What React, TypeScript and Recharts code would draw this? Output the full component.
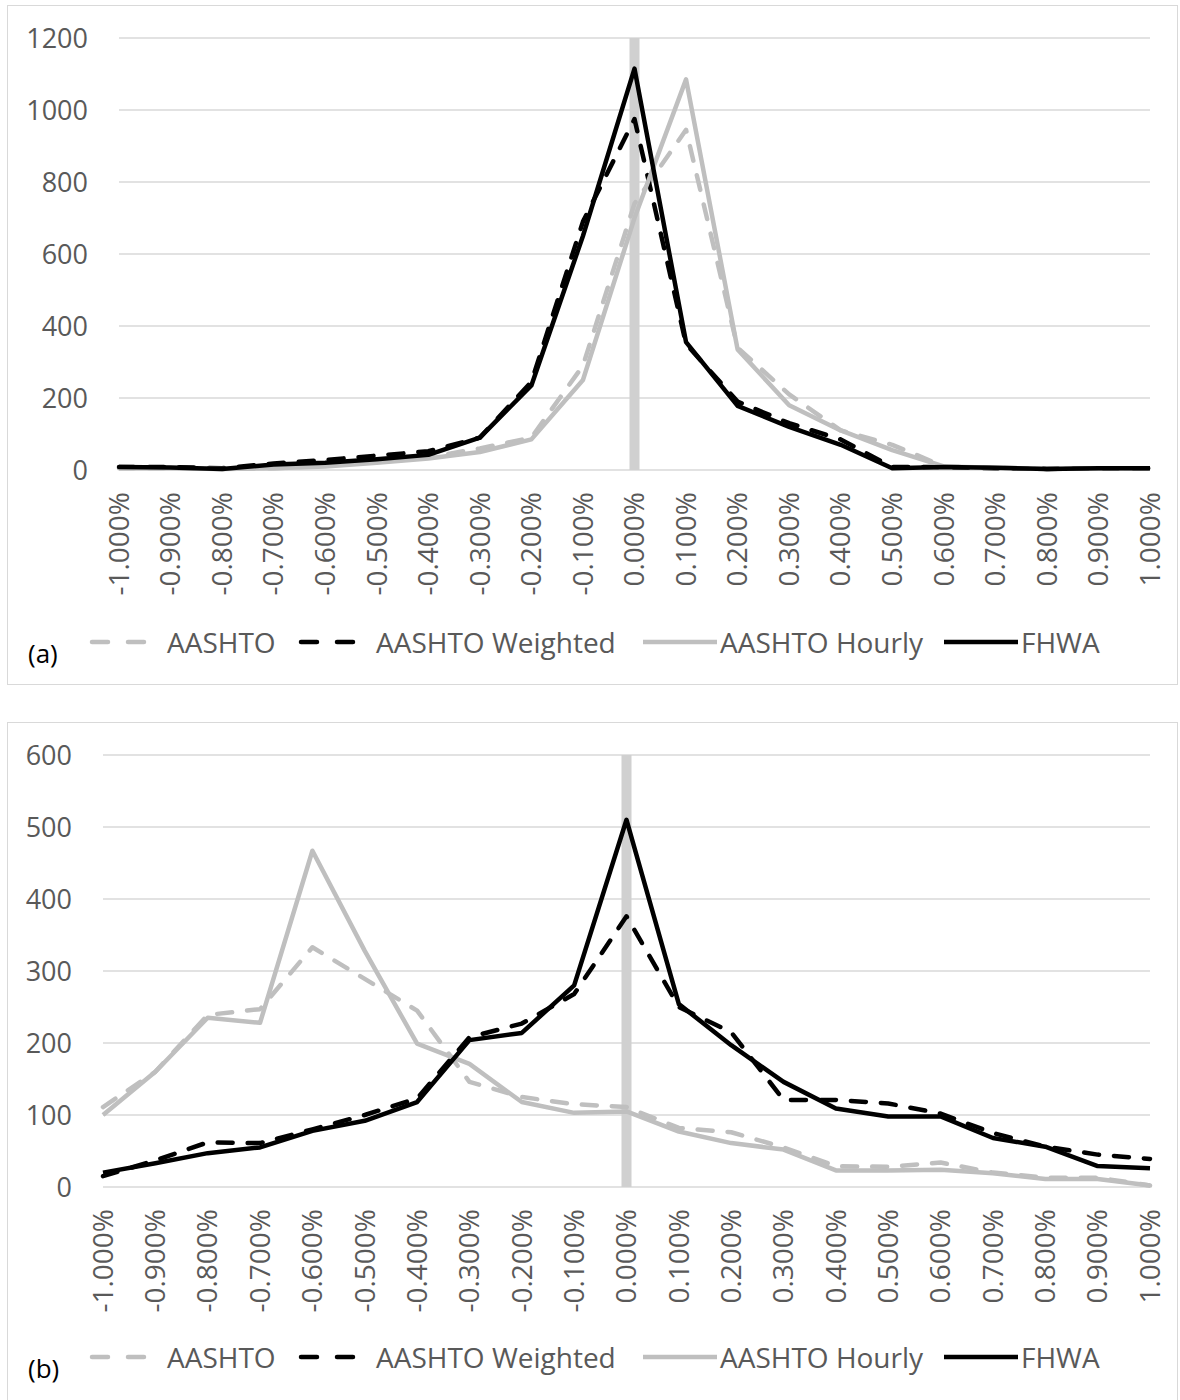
import React from "react";
import { LineChart, Line, XAxis, YAxis, CartesianGrid, ReferenceLine } from "recharts";

const categories = [
  "-1.000%", "-0.900%", "-0.800%", "-0.700%", "-0.600%", "-0.500%", "-0.400%",
  "-0.300%", "-0.200%", "-0.100%", "0.000%", "0.100%", "0.200%", "0.300%",
  "0.400%", "0.500%", "0.600%", "0.700%", "0.800%", "0.900%", "1.000%",
];

const seriesNames = ["AASHTO", "AASHTO Weighted", "AASHTO Hourly", "FHWA"];

// panel (a)
const aAashto = [5, 5, 3, 5, 12, 22, 35, 60, 90, 290, 740, 945, 340, 210, 110, 70, 10, 6, 3, 5, 5];
const aWeighted = [8, 8, 5, 18, 28, 40, 52, 90, 245, 690, 975, 350, 190, 130, 85, 8, 8, 5, 3, 5, 5];
const aHourly = [5, 5, 3, 5, 10, 20, 32, 50, 85, 250, 700, 1085, 335, 180, 110, 55, 10, 6, 3, 5, 5];
const aFhwa = [8, 7, 3, 15, 20, 30, 42, 90, 235, 650, 1115, 355, 178, 120, 70, 5, 8, 6, 3, 5, 5];
const aTicks = [0, 200, 400, 600, 800, 1000, 1200];

// panel (b)
const bAashto = [111, 160, 239, 247, 333, 289, 245, 146, 125, 115, 111, 82, 76, 55, 29, 28, 34, 20, 13, 13, 2];
const bWeighted = [15, 37, 62, 61, 80, 100, 123, 208, 227, 268, 376, 250, 215, 121, 121, 116, 102, 75, 56, 45, 39];
const bHourly = [100, 160, 235, 228, 467, 328, 199, 171, 118, 103, 105, 77, 61, 52, 23, 23, 24, 19, 11, 11, 2];
const bFhwa = [20, 33, 47, 55, 78, 92, 118, 204, 214, 280, 510, 254, 197, 146, 109, 98, 98, 68, 56, 29, 26];
const bTicks = [0, 100, 200, 300, 400, 500, 600];

const GRAY = "#bfbfbf";
const GRID = "#d9d9d9";
const TEXT = "#595959";
const FONT = "'Open Sans', sans-serif";

const lineStyles = [
  { key: "s0", color: GRAY, dash: "15 15" },
  { key: "s1", color: "#000000", dash: "15 15" },
  { key: "s2", color: GRAY, dash: undefined },
  { key: "s3", color: "#000000", dash: undefined },
];

// legend text starts (page x)
const legendTextX = [167, 376, 720, 1021];

function XTick(props: any) {
  const { x, y, payload } = props;
  const ty = y + 14;
  return (
    <text
      x={x}
      y={ty}
      transform={`rotate(-90, ${x}, ${ty})`}
      textAnchor="end"
      dy="0.35em"
      fill={TEXT}
      fontSize={28}
      fontFamily={FONT}
    >
      {payload.value}
    </text>
  );
}

function Panel({ top, label, series, ticks, yAxisWidth, legendY }: any) {
  const data = categories.map((c, i) => {
    const row: any = { x: c };
    series.forEach((s: number[], k: number) => (row[lineStyles[k].key] = s[i]));
    return row;
  });
  const max = ticks[ticks.length - 1];
  return (
    <>
      <div
        style={{
          position: "absolute",
          left: 7,
          top,
          width: 1171,
          height: 680,
          border: `1.5px solid ${GRID}`,
          boxSizing: "border-box",
        }}
      />
      <div style={{ position: "absolute", left: 7, top }}>
        <LineChart width={1170} height={620} data={data} margin={{ top: 33, right: 27, left: 0, bottom: 0 }}>
          <CartesianGrid vertical={false} stroke={GRID} strokeWidth={1.5} />
          <XAxis
            dataKey="x"
            interval={0}
            axisLine={false}
            tickLine={false}
            height={620 - 33 - 432}
            tick={<XTick />}
          />
          <YAxis
            domain={[0, max]}
            ticks={ticks}
            axisLine={false}
            tickLine={false}
            width={yAxisWidth}
            tickMargin={25}
            tick={{ fill: TEXT, fontSize: 27, fontFamily: FONT }}
          />
          <ReferenceLine x="0.000%" stroke="#d0d0d0" strokeWidth={10} />
          {lineStyles.map((st, k) => (
            <Line
              key={st.key}
              dataKey={st.key}
              name={seriesNames[k]}
              stroke={st.color}
              strokeWidth={4.5}
              strokeDasharray={st.dash}
              strokeLinecap={st.dash ? "round" : "butt"}
              strokeLinejoin="round"
              dot={false}
              activeDot={false}
              type="linear"
              isAnimationActive={false}
            />
          ))}
        </LineChart>
      </div>
      <svg style={{ position: "absolute", left: 0, top: legendY - 34 }} width={1180} height={70}>
        <text x={28} y={45} fontSize={26} fontFamily={FONT} fill="#000" dominantBaseline="central">
          {label}
        </text>
        {lineStyles.map((st, k) => {
          const tx = legendTextX[k];
          return (
            <g key={st.key}>
              {st.dash ? (
                <line
                  x1={tx - 75}
                  x2={tx - 23}
                  y1={34}
                  y2={34}
                  stroke={st.color}
                  strokeWidth={4.5}
                  strokeDasharray="16 20"
                  strokeLinecap="round"
                />
              ) : (
                <line x1={tx - 77} x2={tx - 3} y1={34} y2={34} stroke={st.color} strokeWidth={4.5} />
              )}
              <text x={tx} y={34} fontSize={28} fontFamily={FONT} fill={TEXT} dominantBaseline="central">
                {seriesNames[k]}
              </text>
            </g>
          );
        })}
      </svg>
    </>
  );
}

export default function App() {
  return (
    <div style={{ position: "absolute", left: 0, top: 0, width: 1180, height: 1400, background: "#fff" }}>
      <Panel top={5} legendY={642} label="(a)" series={[aAashto, aWeighted, aHourly, aFhwa]} ticks={aTicks} yAxisWidth={112} />
      <Panel top={722} legendY={1357} label="(b)" series={[bAashto, bWeighted, bHourly, bFhwa]} ticks={bTicks} yAxisWidth={96} />
    </div>
  );
}
